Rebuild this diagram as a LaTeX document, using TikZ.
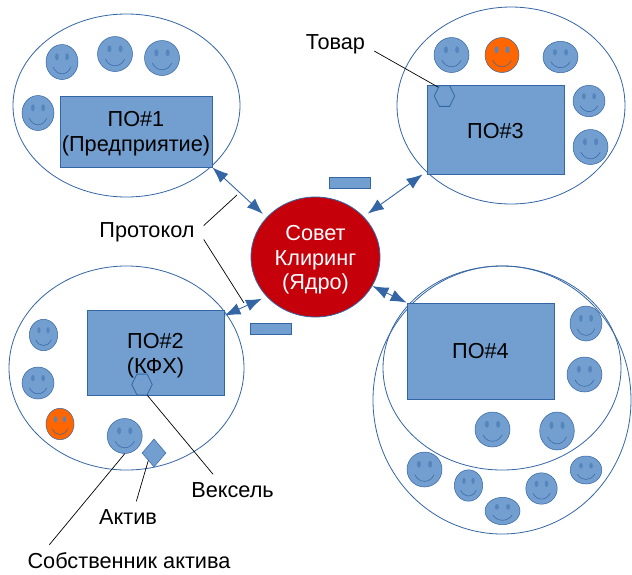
\documentclass[tikz,border=0pt]{standalone}
\usepackage{fontspec}
\setmainfont{Liberation Sans}
\usetikzlibrary{arrows.meta,shapes.geometric}
\definecolor{kant}{HTML}{3465A4}
\definecolor{zalivka}{HTML}{729FCF}
\definecolor{glaz}{HTML}{5585BC}
\definecolor{oranzh}{HTML}{FF6600}
\definecolor{krasn}{HTML}{C5000B}
\begin{document}
\begin{tikzpicture}[x=1pt,y=-1pt]
	\tikzset{oblast/.style={ellipse, draw=kant, line width=0.8pt, inner sep=0},
		uchastnik/.style={draw=kant, line width=0.8pt, fill=zalivka, font=\fontsize{21.7}{25}\selectfont, align=center, inner sep=0},
		lico/.style={ellipse, draw=kant, line width=0.5pt, inner sep=0},
		shesti/.style={regular polygon, regular polygon sides=6, minimum size=24pt, xscale=0.85, transform shape, draw=kant, line width=0.8pt, fill=zalivka, inner sep=0},
		metka/.style={font=\fontsize{21.7}{25}\selectfont, inner xsep=9pt, inner ysep=8pt},
		vynoska/.style={black, line width=0.7pt},
		svyaz/.style={kant, line width=0.9pt, {Latex[length=16pt,width=12pt]}-{Latex[length=16pt,width=12pt]}}}
	\useasboundingbox (0,0) rectangle (632,574);

	\node[oblast, minimum width=227pt, minimum height=183pt] at (126.5,105.5) (obl1) {};
	\node[oblast, minimum width=228pt, minimum height=197pt] at (511,105.5) (obl3) {};
	\node[oblast, minimum width=235pt, minimum height=204pt] at (126.5,368) (obl2) {};
	\node[oblast, minimum width=238pt, minimum height=204pt] at (502,368) (obl4) {};
	\node[oblast, minimum width=258pt, minimum height=268pt] at (502,400) (obl5) {};

	\node[uchastnik, minimum width=152pt, minimum height=71pt] at (136,131.5) (po1) {\rule{0pt}{20pt}ПО\#1\\(Предприятие)};
	\node[uchastnik, minimum width=137pt, minimum height=89pt] at (495.5,129.5) (po3) {\rule{0pt}{18pt}ПО\#3};
	\node[uchastnik, minimum width=137pt, minimum height=85pt] at (155.5,352.5) (po2) {\rule{0pt}{21pt}ПО\#2\\(КФХ)};
	\node[uchastnik, minimum width=147pt, minimum height=96pt] at (480.5,351) (po4) {ПО\#4};

	\node[ellipse, draw=kant, line width=0.8pt, fill=krasn, text=white, minimum width=129pt, minimum height=120pt, inner sep=0, align=center, font=\fontsize{21.7}{24.5}\selectfont] at (315.5,257) (yadro) {\rule{0pt}{21pt}Совет\\Клиринг\\(Ядро)};

	\node[draw=kant, line width=0.5pt, fill=zalivka, minimum width=41pt, minimum height=11pt, inner sep=0] at (349.5,182.5) (plat1) {};
	\node[draw=kant, line width=0.5pt, fill=zalivka, minimum width=41pt, minimum height=11pt, inner sep=0] at (271,328.5) (plat2) {};

	\foreach \nm/\cx/\cy/\rx/\ry/\cvet in {
		a1/62/62/16/17.5/zalivka, a2/115/54/17.5/17.5/zalivka, a3/162/58/17.5/17.5/zalivka, a4/38/113/16/17.5/zalivka,
		c1/451.5/55/17.5/17.5/zalivka, c2/502/55/17/17.5/oranzh, c3/560.5/57/17.5/15.7/zalivka, c4/589/101/16/15.7/zalivka, c5/590.5/147/17.5/17.5/zalivka,
		b1/43.5/335/14.2/15.7/zalivka, b2/38/383/16/16/zalivka, b3/60/424/14/15.7/oranzh, b4/124.7/436/17.5/17.5/zalivka,
		d1/586/323.5/16/17.5/zalivka, d2/584.5/374.5/17.5/17.5/zalivka, d3/492.5/429.5/17.5/17.5/zalivka, d4/557/431/17.3/19/zalivka,
		d5/424.5/469.5/17.5/17.5/zalivka, d6/468.5/485.5/14.2/15.7/zalivka, d7/502.5/511/17.5/13.7/zalivka, d8/541.5/488.5/15.7/15.7/zalivka, d9/586/470/15.8/14/zalivka}{
		\node[lico, fill=\cvet, minimum width=2*\rx, minimum height=2*\ry] at (\cx,\cy) (\nm) {};
		\begin{scope}[shift={(\cx,\cy)}, xscale=\rx, yscale=\ry]
			\fill[glaz] (-0.32,-0.3) ellipse [x radius=0.115, y radius=0.2];
			\fill[glaz] (0.32,-0.3) ellipse [x radius=0.115, y radius=0.2];
			\draw[kant, line width=0.5pt] (-0.55,0.3) .. controls (-0.3,0.8) and (0.3,0.8) .. (0.55,0.3);
		\end{scope}
	}

	\node[shesti] at (444.5,96) (tov) {};
	\node[shesti] at (142,384.5) (veks) {};
	\node[diamond, draw=kant, line width=0.5pt, fill=zalivka, minimum width=24pt, minimum height=28pt, inner sep=0] at (154,453) (akt) {};

	\node[metka] at (147,232.5) (protokol) {Протокол};
	\node[metka] at (335.5,44) (tovar) {Товар};
	\node[metka] at (232.5,490) (veksel) {Вексель};
	\node[metka] at (128,517) (aktiv) {Актив};
	\node[metka] at (129,561) (sobstv) {Собственник актива};
	\coordinate (prot1) at (237,195);
	\coordinate (prot2) at (244,303);

	\draw[svyaz, shorten >=5pt] (po1.south east) -- (yadro.141);
	\draw[svyaz, shorten >=5pt] ([xshift=-4pt]po3.south west) -- (yadro.40);
	\draw[svyaz, shorten >=5pt] ([yshift=-6pt]po2.north east) -- (yadro.219);
	\draw[svyaz] (yadro.333) -- (po4.north west);

	\draw[vynoska] (protokol.7) -- (prot1);
	\draw[vynoska] (protokol.-7) -- (prot2);
	\draw[vynoska] ([yshift=-7pt]tovar.east) -- (tov.130);
	\draw[vynoska] (veks.-60) -- (veksel.141);
	\draw[vynoska] (aktiv.62) -- (akt.233);
	\draw[vynoska] ([xshift=31pt]sobstv.north west) -- (b4.south);
\end{tikzpicture}
\end{document}
